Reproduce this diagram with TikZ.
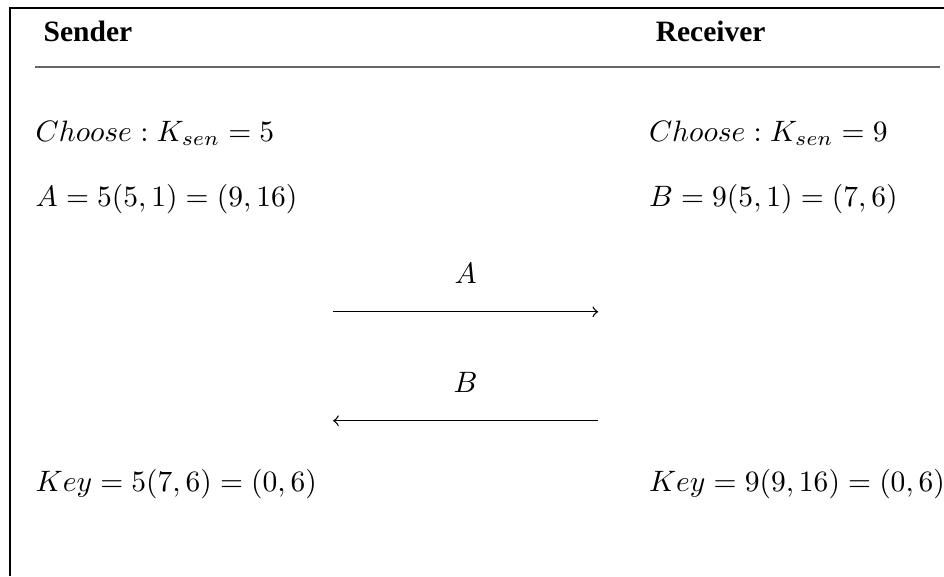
\documentclass[tikz,border=0pt]{standalone}
\usepackage{amsmath}
\usepackage{fontspec}
\setmainfont{Liberation Serif}
\usetikzlibrary{arrows}

\tikzset{
  head/.style={anchor=base west,inner sep=0pt,font=\bfseries},
  calc/.style={anchor=base west,inner sep=0pt},
  msg/.style={->,line width=.45pt}
}

\begin{document}
\begin{tikzpicture}[line width=.45pt]
\useasboundingbox (0,0) rectangle (11.24,6.86);
% frame and rule
\draw[line width=.7pt] (.12,0) -- (.12,6.765) -- (11.3,6.765);
\draw[line width=.7pt,black!60] (.417,6.062) -- (11.195,6.062);
% column heads
\node[head] (sender) at (.512,6.36) {Sender};
\node[head] (receiver) at (7.80,6.36) {Receiver};
% sender side
\node[calc] (chooseS) at (.417,5.181) {$Choose: K_{sen}=5$};
\node[calc] (pubA) at (.417,4.407) {$A=5(5,1)=(9,16)$};
\node[calc] (keyS) at (.417,1.004) {$Key=5(7,6)=(0,6)$};
% receiver side
\node[calc] (chooseR) at (7.72,5.181) {$Choose: K_{sen}=9$};
\node[calc] (pubB) at (7.72,4.407) {$B=9(5,1)=(7,6)$};
\node[calc] (keyR) at (7.72,1.004) {$Key=9(9,16)=(0,6)$};
% exchange
\coordinate (aL) at (3.966,3.148);
\coordinate (aR) at (7.122,3.148);
\coordinate (bL) at (3.966,1.850);
\coordinate (bR) at (7.122,1.850);
\draw[msg] (aL) -- node[above=6pt] (labA) {$A$} (aR);
\draw[msg] (bR) -- node[above=6pt] (labB) {$B$} (bL);
\end{tikzpicture}
\end{document}
